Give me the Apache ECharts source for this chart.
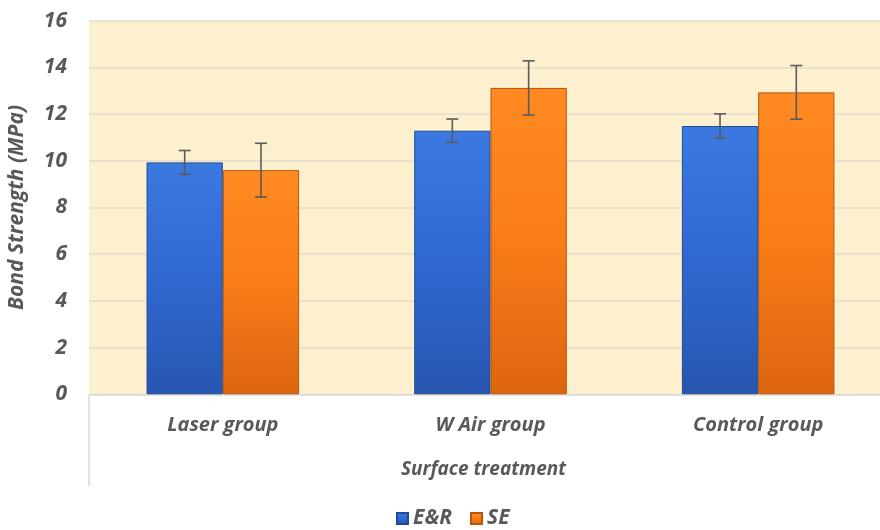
<!DOCTYPE html>
<html><head><meta charset="utf-8">
<script src="https://cdn.jsdelivr.net/npm/echarts@6/dist/echarts.min.js"></script>
<style>html,body{margin:0;padding:0;background:#fff}#c{width:880px;height:530px}</style>
</head><body><div id="c"></div>
<script>
const categories = ['Laser group', 'W Air group', 'Control group'];
const erValues = [9.93, 11.29, 11.49];
const erErrors = [0.51, 0.5, 0.52];
const seValues = [9.6, 13.12, 12.93];
const seErrors = [1.15, 1.16, 1.15];
const yTicks = {min: 0, max: 16, interval: 2};

const font = '"Open Sans", "DejaVu Sans", sans-serif';
const gapPct = 43;
const chart = echarts.init(document.getElementById('c'));

function errSeries(name, vals, errs, side) {
  return {
    type: 'custom', name: name + ' err', z: 10, silent: true,
    data: vals.map((v, i) => [i, v - errs[i], v + errs[i]]),
    renderItem: function (params, api) {
      const band = api.size([1, 0])[0];
      const bw = band * (1 - gapPct / 100) / 2;
      const lo = api.coord([api.value(0), api.value(1)]);
      const hi = api.coord([api.value(0), api.value(2)]);
      const x = lo[0] + side * bw / 2;
      const cap = 6;
      const st = {stroke: '#5a5a5a', lineWidth: 1.6};
      return {type: 'group', children: [
        {type: 'line', shape: {x1: x, y1: lo[1], x2: x, y2: hi[1]}, style: st},
        {type: 'line', shape: {x1: x - cap, y1: lo[1], x2: x + cap, y2: lo[1]}, style: st},
        {type: 'line', shape: {x1: x - cap, y1: hi[1], x2: x + cap, y2: hi[1]}, style: st}
      ]};
    }
  };
}

const blue = new echarts.graphic.LinearGradient(0, 0, 0, 1, [
  {offset: 0, color: '#3b79e0'}, {offset: 0.5, color: '#3068d0'}, {offset: 1, color: '#2756b0'}]);
const orange = new echarts.graphic.LinearGradient(0, 0, 0, 1, [
  {offset: 0, color: '#ff8a22'}, {offset: 0.5, color: '#f97c18'}, {offset: 1, color: '#dc6510'}]);

const labelFont = {fontFamily: font, fontStyle: 'italic', fontWeight: 'bold', color: '#595959'};

chart.setOption({
  animation: false,
  textStyle: {fontFamily: font},
  grid: {left: 89, top: 20.7, bottom: 135.7, right: -12, show: true, containLabel: false,
         outerBoundsMode: 'none',
         backgroundColor: '#fdf0cf', borderWidth: 0},
  legend: {
    bottom: -4, left: 391, itemWidth: 11, itemHeight: 11, itemGap: 18, icon: 'rect',
    data: ['E&R', 'SE'],
    textStyle: Object.assign({fontSize: 21}, labelFont)
  },
  xAxis: {
    type: 'category', data: categories,
    axisLine: {show: true, lineStyle: {color: '#d9d9d9', width: 1}},
    axisTick: {show: true, length: 92, interval: function (i) { return i === 0; },
               lineStyle: {color: '#d9d9d9', width: 1.5}},
    axisLabel: Object.assign({margin: 21, fontSize: 20}, labelFont),
    name: 'Surface treatment', nameLocation: 'middle', nameGap: 66,
    nameTextStyle: Object.assign({fontSize: 19, padding: [0, 14, 0, 0]}, labelFont)
  },
  yAxis: [{
    type: 'value', min: yTicks.min, max: yTicks.max, interval: yTicks.interval,
    axisLine: {show: false}, axisTick: {show: false},
    splitLine: {lineStyle: {color: '#e3dccb', width: 1.5}},
    axisLabel: Object.assign({margin: 22, fontSize: 21}, labelFont)
  }, {
    type: 'value', position: 'left', min: yTicks.min, max: yTicks.max, interval: yTicks.interval,
    axisLine: {show: false}, axisTick: {show: false}, splitLine: {show: false},
    axisLabel: {show: false},
    name: 'Bond Strength (MPa)', nameLocation: 'middle', nameGap: 61, nameRotate: 90,
    nameTextStyle: Object.assign({fontSize: 21}, labelFont)
  }],
  series: [
    {name: 'E&R', type: 'bar', data: erValues, barGap: '0%', barCategoryGap: gapPct + '%',
     itemStyle: {color: blue, borderColor: '#1f4a9a', borderWidth: 1}},
    {name: 'SE', type: 'bar', data: seValues, barGap: '0%', barCategoryGap: gapPct + '%',
     itemStyle: {color: orange, borderColor: '#b5560f', borderWidth: 1}},
    errSeries('E&R', erValues, erErrors, -1),
    errSeries('SE', seValues, seErrors, 1)
  ]
});
</script></body></html>
